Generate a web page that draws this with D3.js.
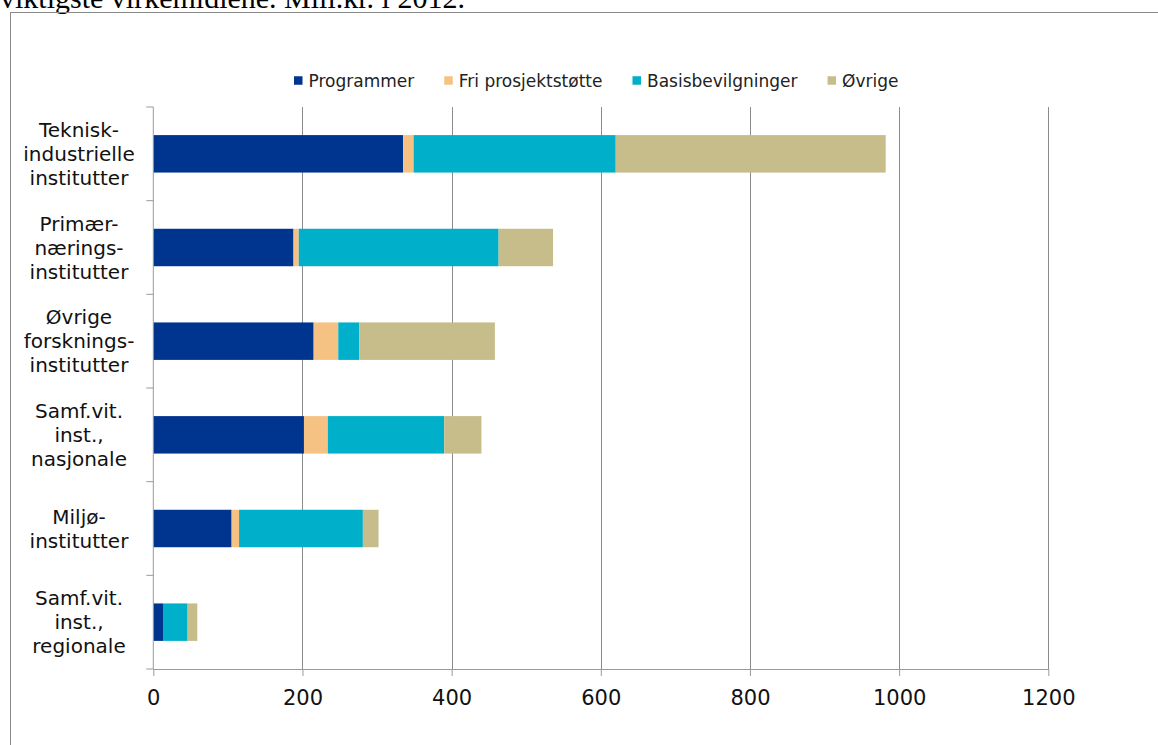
<!DOCTYPE html>
<html>
<head>
<meta charset="utf-8">
<script src="https://cdn.jsdelivr.net/npm/d3@7.9.0/dist/d3.min.js"></script>
<style>
  body { margin: 0; background: #fff; }
  svg { display: block; }
</style>
</head>
<body>
<svg id="chart"></svg>
<script>
const categoryLines = [
  ["Teknisk-", "industrielle", "institutter"],
  ["Primær-", "nærings-", "institutter"],
  ["Øvrige", "forsknings-", "institutter"],
  ["Samf.vit.", "inst.,", "nasjonale"],
  ["Miljø-", "institutter"],
  ["Samf.vit.", "inst.,", "regionale"]
];
const categories = categoryLines.map(d => d.join(" "));

const seriesNames = ["Programmer", "Fri prosjektstøtte", "Basisbevilgninger", "Øvrige"];
const programmer = [335, 188, 215, 202, 105, 13];
const friProsjekt = [14, 7, 33, 32, 10, 0];
const basis = [271, 268, 28, 156, 166, 33];
const ovrige = [362, 73, 182, 50, 21, 13];
const xTicks = [0, 200, 400, 600, 800, 1000, 1200];

const caption = "viktigste virkemidlene. Mill.kr. i 2012.";

function drawChart() {
    const svgWidth = 1158;
    const svgHeight = 745;
    const font = "'DejaVu Sans', Verdana, sans-serif";

    const svg = d3.select("#chart")
        .attr("width", svgWidth)
        .attr("height", svgHeight);

    const colors = ["#00358f", "#f6c283", "#00afc9", "#c6bd8b"];
    const seriesValues = [programmer, friProsjekt, basis, ovrige];

    const rows = categories.map((c, i) => {
        const row = { category: c };
        seriesNames.forEach((s, j) => { row[s] = seriesValues[j][i]; });
        return row;
    });
    const stacked = d3.stack().keys(seriesNames)(rows);

    // caption line from the document, cut by the page top
    svg.append("text")
        .attr("x", 0)
        .attr("y", 8)
        .style("font-family", "'Liberation Serif', 'Times New Roman', serif")
        .style("font-size", "30px")
        .attr("fill", "#000")
        .text(caption);

    // chart frame
    svg.append("rect")
        .attr("x", 10.5)
        .attr("y", 12.5)
        .attr("width", 1200)
        .attr("height", 800)
        .attr("fill", "none")
        .attr("stroke", "#8a8a8a")
        .attr("stroke-width", 1);

    const xScale = d3.scaleLinear().domain([0, 1200]).range([153.3, 1048.3]);
    const yScale = d3.scaleBand()
        .domain(categories)
        .range([107, 669])
        .paddingInner(0.6)
        .paddingOuter(0.3);

    const top = yScale.range()[0];
    const bottom = yScale.range()[1];

    // gridlines
    svg.append("g")
        .selectAll("line")
        .data(xTicks.filter(d => d > 0))
        .enter()
        .append("line")
        .attr("x1", d => Math.round(xScale(d)) + 0.5)
        .attr("x2", d => Math.round(xScale(d)) + 0.5)
        .attr("y1", top)
        .attr("y2", bottom)
        .attr("stroke", "#8c8c8c")
        .attr("stroke-width", 1);

    // bars
    svg.append("g")
        .selectAll("g")
        .data(stacked)
        .enter()
        .append("g")
        .attr("fill", (d, i) => colors[i])
        .selectAll("rect")
        .data(d => d)
        .enter()
        .append("rect")
        .attr("x", d => xScale(d[0]))
        .attr("y", d => yScale(d.data.category))
        .attr("width", d => xScale(d[1]) - xScale(d[0]))
        .attr("height", yScale.bandwidth());

    // x axis
    const xAxis = d3.axisBottom(xScale)
        .tickValues(xTicks)
        .tickFormat(d3.format("d"))
        .tickSize(7)
        .tickSizeOuter(0)
        .tickPadding(14);

    const xAxisG = svg.append("g")
        .attr("transform", `translate(0, ${bottom})`)
        .call(xAxis);
    xAxisG.select(".domain").attr("stroke", "#9a9a9a");
    xAxisG.selectAll(".tick line").attr("stroke", "#9a9a9a");
    xAxisG.selectAll("text")
        .style("font-family", font)
        .style("font-size", "21px")
        .attr("fill", "#111");

    // y axis line with ticks between categories
    svg.append("line")
        .attr("x1", xScale(0))
        .attr("x2", xScale(0))
        .attr("y1", top)
        .attr("y2", bottom)
        .attr("stroke", "#9a9a9a");

    const step = yScale.step();
    const boundaries = d3.range(categories.length + 1).map(i => top + i * step);
    svg.append("g")
        .selectAll("line")
        .data(boundaries)
        .enter()
        .append("line")
        .attr("x1", xScale(0) - 7)
        .attr("x2", xScale(0))
        .attr("y1", d => d)
        .attr("y2", d => d)
        .attr("stroke", "#9a9a9a");

    // category labels
    const labels = svg.append("g");
    categoryLines.forEach((lines, i) => {
        const cy = yScale(categories[i]) + yScale.bandwidth() / 2;
        const t = labels.append("text")
            .attr("text-anchor", "middle")
            .style("font-family", font)
            .style("font-size", "20px")
            .attr("fill", "#111");
        lines.forEach((line, k) => {
            t.append("tspan")
                .attr("x", 79)
                .attr("y", cy + (k - (lines.length - 1) / 2) * 24)
                .attr("dy", "0.36em")
                .text(line);
        });
    });

    // legend
    const legend = svg.append("g").attr("transform", "translate(294, 80.5)");
    let offset = 0;
    seriesNames.forEach((name, i) => {
        const item = legend.append("g").attr("transform", `translate(${offset}, 0)`);
        item.append("rect")
            .attr("x", 0)
            .attr("y", -4.25)
            .attr("width", 8.5)
            .attr("height", 8.5)
            .attr("fill", colors[i]);
        const label = item.append("text")
            .attr("x", 14.5)
            .attr("y", 0)
            .attr("dy", "0.36em")
            .style("font-family", font)
            .style("font-size", "17px")
            .attr("fill", "#222")
            .text(name);
        offset += 14.5 + label.node().getComputedTextLength() + 30;
    });
}

drawChart();
</script>
</body>
</html>
